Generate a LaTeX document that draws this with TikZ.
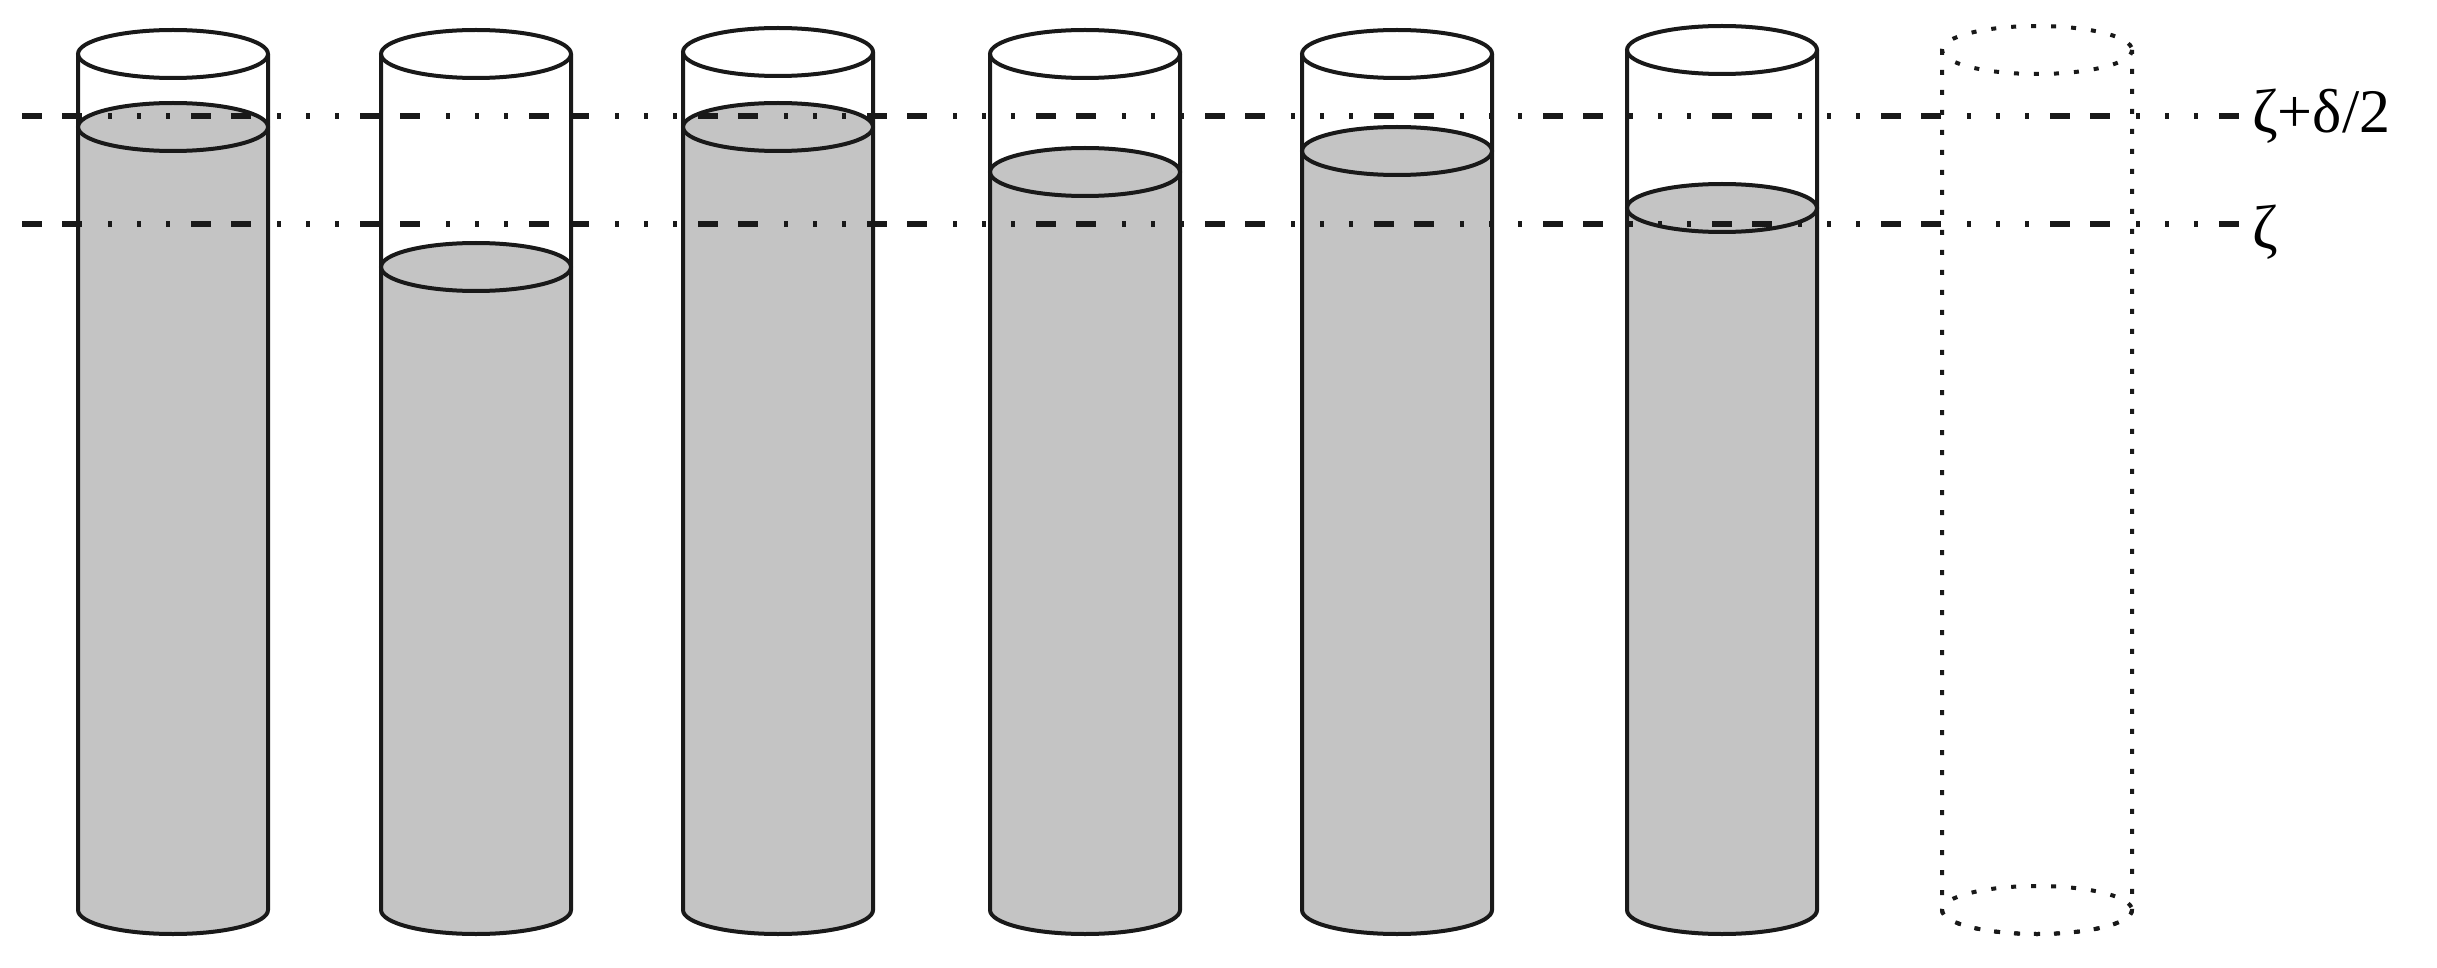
\documentclass[tikz,border=0pt]{standalone}
\usepackage{fontspec}
\setmainfont{Liberation Serif}
\begin{document}
\begin{tikzpicture}[x=1pt,y=-1pt,
  tube/.style={line width=4pt,draw=black!90},
  liquid/.style={fill=black!23},
  ghost/.style={line width=4pt,draw=black!90,dash pattern=on 5pt off 15pt},
  level/.style={line width=5.5pt,draw=black!90,dash pattern=on 20pt off 20pt on 20pt off 26pt on 4pt off 25pt on 4pt off 25pt on 4pt off 21pt},
  lab/.style={anchor=west,font=\fontsize{62}{64}\selectfont,inner sep=0pt}]
\useasboundingbox (0,0) rectangle (2437,968);
\def\rx{95}\def\ry{24}\def\bot{910}
\foreach \cx/\tp/\lq in {173/54/127, 476/54/267, 778/52/127, 1085/54/172, 1397/54/151, 1722/50/208}{
  \fill[liquid] (\cx-\rx,\lq) -- (\cx-\rx,\bot) arc[start angle=180,end angle=0,x radius=\rx,y radius=\ry] -- (\cx+\rx,\lq) -- cycle;
  \fill[liquid] (\cx,\lq) ellipse[x radius=\rx,y radius=\ry];
  \draw[tube] (\cx,\lq) ellipse[x radius=\rx,y radius=\ry];
  \draw[tube] (\cx-\rx,\tp) -- (\cx-\rx,\bot) arc[start angle=180,end angle=0,x radius=\rx,y radius=\ry] -- (\cx+\rx,\tp);
  \draw[tube] (\cx,\tp) ellipse[x radius=\rx,y radius=\ry];
}
\draw[ghost] (2037,50) ellipse[x radius=\rx,y radius=\ry];
\draw[ghost] (2037-\rx,50) -- (2037-\rx,\bot) arc[start angle=180,end angle=0,x radius=\rx,y radius=\ry] -- (2037+\rx,50);
\draw[ghost] (2037,\bot) ellipse[x radius=\rx,y radius=\ry];
\node[lab] (top) at (2252,116) {ζ+δ/2};
\node[lab] (z) at (2252,232) {ζ};
\coordinate (a1) at (22,116);
\coordinate (a2) at (22,224);
\draw[level] (a1) -- (top.west |- a1);
\draw[level] (a2) -- (top.west |- a2);
\end{tikzpicture}
\end{document}
